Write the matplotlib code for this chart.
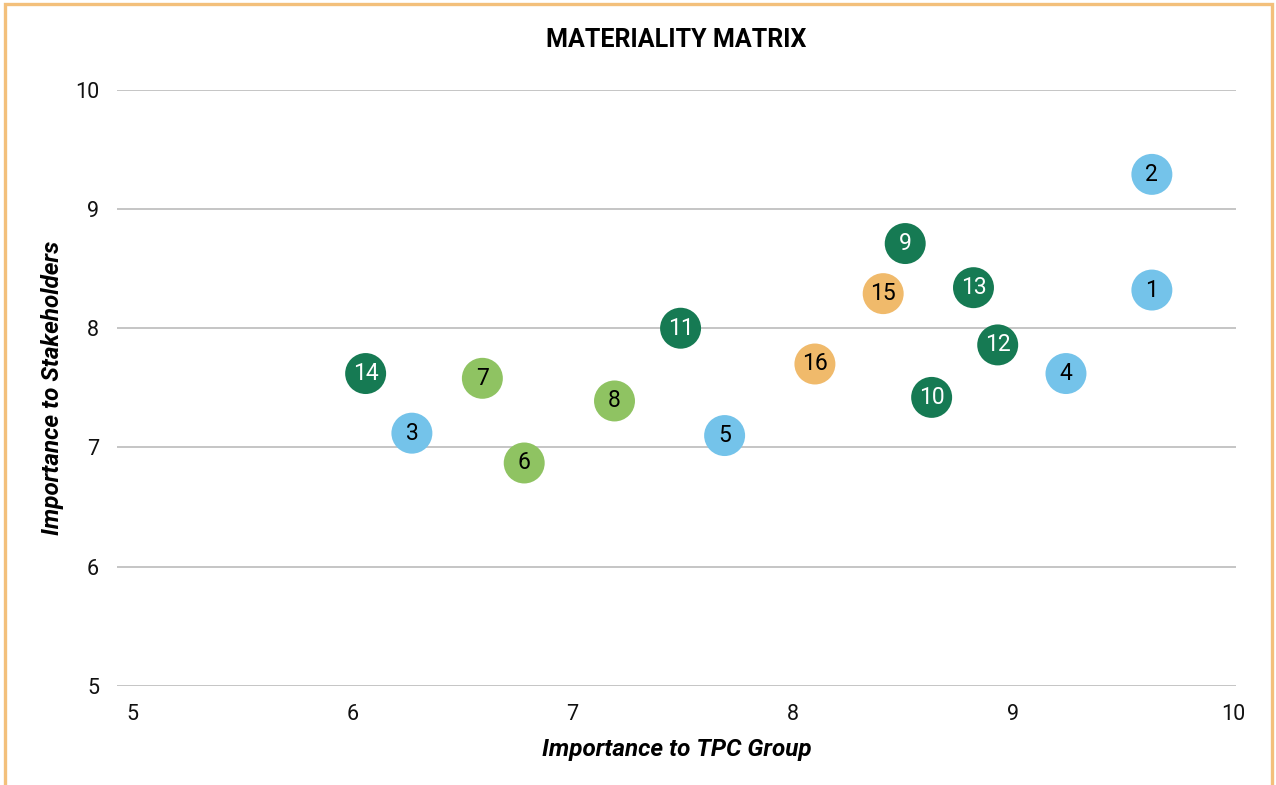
import matplotlib
matplotlib.use("Agg")
import matplotlib.pyplot as plt
from matplotlib.patches import Rectangle

plt.rcParams['font.family'] = ['Roboto', 'DejaVu Sans']

# Materiality topics: id, importance to TPC group (x), importance to stakeholders (y)
topic_ids = [1, 2, 3, 4, 5, 6, 7, 8, 9, 10, 11, 12, 13, 14, 15, 16]
tpc_scores = [9.63, 9.63, 6.27, 9.24, 7.69, 6.78, 6.59, 7.19, 8.51, 8.63, 7.49, 8.93, 8.82, 6.06, 8.41, 8.10]
stakeholder_scores = [8.32, 9.29, 7.12, 7.62, 7.10, 6.87, 7.58, 7.39, 8.71, 7.42, 8.00, 7.86, 8.34, 7.62, 8.29, 7.70]
topic_groups = ['blue', 'blue', 'blue', 'blue', 'blue', 'lgreen', 'lgreen', 'lgreen',
                'dgreen', 'dgreen', 'dgreen', 'dgreen', 'dgreen', 'dgreen', 'orange', 'orange']

group_colors = {'blue': '#74C3EA', 'lgreen': '#8FC362', 'dgreen': '#167A53', 'orange': '#F0BA6B'}
text_colors = {'blue': 'black', 'lgreen': 'black', 'dgreen': 'white', 'orange': 'black'}

axis_ticks = [5, 6, 7, 8, 9, 10]

fig = plt.figure(figsize=(12.76, 7.85), dpi=100)
ax = fig.add_axes([117 / 1276, 99 / 785, 1119 / 1276, 596.3 / 785])

for tid, x, y, grp in zip(topic_ids, tpc_scores, stakeholder_scores, topic_groups):
    ax.scatter(x, y, s=870, color=group_colors[grp], edgecolors='none', zorder=3)
    ax.text(x, y, str(tid), ha='center', va='center', fontsize=16.5,
            color=text_colors[grp], zorder=4)

ax.set_xlim(4.931, 10.012)
ax.set_ylim(5, 10)
ax.set_xticks(axis_ticks)
ax.set_yticks(axis_ticks)
ax.tick_params(axis='both', length=0, labelsize=15.5, colors='#111111')
ax.tick_params(axis='x', pad=13)
ax.tick_params(axis='y', pad=13)
ax.grid(axis='y', color='#BBBBBB', linewidth=1.2)
ax.grid(axis='x', visible=False)
ax.set_axisbelow(True)
for sp in ax.spines.values():
    sp.set_visible(False)

ax.set_xlabel('Importance to TPC Group', fontsize=17.5, fontweight='bold',
              fontstyle='italic', labelpad=9)
ax.set_ylabel('Importance to Stakeholders', fontsize=17.5, fontweight='bold',
              fontstyle='italic', labelpad=8)

fig.text(676 / 1276, 1 - 40 / 785, 'MATERIALITY MATRIX', ha='center', va='center',
         fontsize=18, fontweight='bold')

# orange frame around the chart
fig.patches.append(Rectangle((5 / 1276, -0.05), 1267 / 1276, 1.05 - 4 / 785,
                             transform=fig.transFigure, fill=False,
                             edgecolor='#F3C07B', linewidth=2.4))

fig.savefig('out.png', dpi=100)
